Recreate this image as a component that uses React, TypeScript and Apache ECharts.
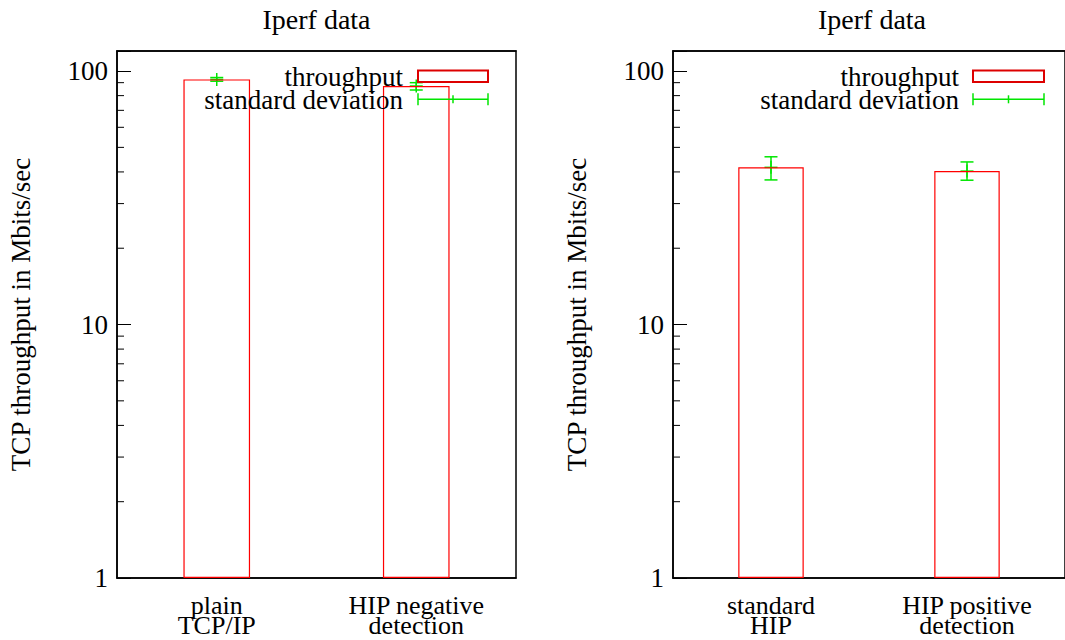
import React, { useEffect, useRef } from 'react';
import * as echarts from 'echarts';

// ---- data ----
const leftCategories = ['plain\nTCP/IP', 'HIP negative\ndetection'];
const leftThroughput = [92.7, 87.3];
const leftDevLow = [91.2, 84.2];
const leftDevHigh = [94.3, 90.0];

const rightCategories = ['standard\nHIP', 'HIP positive\ndetection'];
const rightThroughput = [41.7, 40.3];
const rightDevLow = [37.2, 37.1];
const rightDevHigh = [45.9, 43.8];

const yMin = 1;
const yMax = 120;
const majorTicks = [1, 10, 100];
const minorTicks = [2, 3, 4, 5, 6, 7, 8, 9, 20, 30, 40, 50, 60, 70, 80, 90];
const chartTitle = 'Iperf data';
const yAxisName = 'TCP throughput in Mbits/sec';
const legendNames = ['throughput', 'standard deviation'];

const FONT = "'Liberation Serif', 'DejaVu Serif', serif";
const FS = 27;
const RED = '#ff0000';
const GREEN = '#00e600';

export default function App() {
  const ref = useRef<HTMLDivElement>(null);
  useEffect(() => {
    if (!ref.current) return;
    const chart = echarts.init(ref.current, undefined, { renderer: 'svg' });

    const panels = [
      { cats: leftCategories, thr: leftThroughput, lo: leftDevLow, hi: leftDevHigh, grid: { left: 117, top: 51, width: 399, height: 527 }, titleX: 316.5, legendRight: 403, legendSample: 418, legendW: 70 },
      { cats: rightCategories, thr: rightThroughput, lo: rightDevLow, hi: rightDevHigh, grid: { left: 673, top: 51, width: 398, height: 527 }, titleX: 872, legendRight: 959, legendSample: 973, legendW: 71 },
    ];

    const grids: any[] = [];
    const xAxes: any[] = [];
    const yAxes: any[] = [];
    const series: any[] = [];
    const graphics: any[] = [];

    panels.forEach((p, i) => {
      grids.push({ ...p.grid, show: true, borderColor: '#000', borderWidth: 1.5, backgroundColor: 'transparent', containLabel: false });
      xAxes.push({
        type: 'category', gridIndex: i, position: 'bottom', data: p.cats,
        axisLine: { lineStyle: { color: '#000', width: 1.5 } },
        axisTick: { inside: true, length: 13, alignWithLabel: true, lineStyle: { color: '#000', width: 1 } },
        axisLabel: { interval: 0, color: '#000', fontFamily: FONT, fontSize: 26, lineHeight: 20, margin: 17 },
      });
      xAxes.push({
        type: 'category', gridIndex: i, position: 'top', data: p.cats,
        axisLine: { lineStyle: { color: '#000', width: 1.5 } },
        axisTick: { inside: true, length: 13, alignWithLabel: true, lineStyle: { color: '#000', width: 1 } },
        axisLabel: { show: false },
      });
      yAxes.push({
        type: 'log', logBase: 10, gridIndex: i, min: yMin, max: yMax,
        name: yAxisName, nameLocation: 'middle', nameRotate: 90, nameGap: 83,
        nameTextStyle: { color: '#000', fontFamily: FONT, fontSize: FS },
        axisLine: { show: true, lineStyle: { color: '#000', width: 1.5 } },
        axisTick: { show: true, inside: true, length: 14, lineStyle: { color: '#000', width: 1 } },
        splitLine: { show: false },
        axisLabel: {
          color: '#000', fontFamily: FONT, fontSize: FS, margin: 9,
          formatter: (v: number) => {
            const m = majorTicks.find((t) => Math.abs(t - v) < 1e-6 * t);
            return m !== undefined ? String(m) : '';
          },
        },
      });

      series.push({
        type: 'bar', xAxisIndex: 2 * i, yAxisIndex: i, data: p.thr, barWidth: '33.4%', z: 4,
        itemStyle: { color: 'rgba(0,0,0,0)', borderColor: RED, borderWidth: 1.2 },
        silent: true,
      });
      series.push({
        type: 'custom', xAxisIndex: 2 * i, yAxisIndex: i, z: 3, silent: true,
        data: p.thr.map((v, k) => [k, v, p.lo[k], p.hi[k]]),
        encode: { x: 0, y: [1, 2, 3] },
        renderItem: (params: any, api: any) => {
          const x = api.value(0);
          const c = api.coord([x, api.value(1)]);
          const lo = api.coord([x, api.value(2)]);
          const hi = api.coord([x, api.value(3)]);
          const cap = 6.5;
          const st = { stroke: GREEN, lineWidth: 1.5 };
          return {
            type: 'group',
            children: [
              { type: 'line', shape: { x1: c[0], y1: lo[1], x2: c[0], y2: hi[1] }, style: st },
              { type: 'line', shape: { x1: c[0] - cap, y1: lo[1], x2: c[0] + cap, y2: lo[1] }, style: st },
              { type: 'line', shape: { x1: c[0] - cap, y1: hi[1], x2: c[0] + cap, y2: hi[1] }, style: st },
              { type: 'line', shape: { x1: c[0] - cap, y1: c[1], x2: c[0] + cap, y2: c[1] }, style: st },
              { type: 'line', shape: { x1: c[0], y1: c[1] - cap, x2: c[0], y2: c[1] + cap }, style: st },
            ],
          };
        },
      });
      series.push({
        type: 'custom', xAxisIndex: 2 * i, yAxisIndex: i, z: 2, silent: true,
        data: minorTicks.map((v) => [0, v]),
        encode: { x: 0, y: 1 },
        renderItem: (params: any, api: any) => {
          const cs = params.coordSys;
          const y = api.coord([0, api.value(1)])[1];
          return { type: 'line', shape: { x1: cs.x, y1: y, x2: cs.x + 7, y2: y }, style: { stroke: '#000', lineWidth: 1 } };
        },
      });

      // title
      graphics.push({ type: 'text', x: p.titleX, y: 19, style: { text: chartTitle, align: 'center', verticalAlign: 'middle', fill: '#000', font: `28px ${FONT}` } });
      // legend
      const sx = p.legendSample;
      const w = p.legendW;
      graphics.push({ type: 'text', x: p.legendRight, y: 77, z: 10, style: { text: legendNames[0], align: 'right', verticalAlign: 'middle', fill: '#000', font: `${FS}px ${FONT}` } });
      graphics.push({ type: 'rect', z: 10, shape: { x: sx, y: 70.5, width: w, height: 11.5 }, style: { fill: 'none', stroke: '#dd0000', lineWidth: 2 } });
      graphics.push({ type: 'text', x: p.legendRight, y: 100, z: 10, style: { text: legendNames[1], align: 'right', verticalAlign: 'middle', fill: '#000', font: `${FS}px ${FONT}` } });
      const ly = 99.3;
      const gs = { stroke: GREEN, lineWidth: 1.5 };
      graphics.push({ type: 'line', z: 10, shape: { x1: sx, y1: ly, x2: sx + w, y2: ly }, style: gs });
      graphics.push({ type: 'line', z: 10, shape: { x1: sx, y1: ly - 6, x2: sx, y2: ly + 6 }, style: gs });
      graphics.push({ type: 'line', z: 10, shape: { x1: sx + w, y1: ly - 6, x2: sx + w, y2: ly + 6 }, style: gs });
      graphics.push({ type: 'line', z: 10, shape: { x1: sx + w / 2, y1: ly - 4, x2: sx + w / 2, y2: ly + 4 }, style: gs });
    });

    chart.setOption({
      animation: false,
      backgroundColor: '#fff',
      grid: grids,
      xAxis: xAxes,
      yAxis: yAxes,
      series,
      graphic: graphics,
    });
    return () => chart.dispose();
  }, []);

  return <div ref={ref} style={{ position: 'absolute', left: 0, top: 0, width: 1065, height: 640, background: '#fff' }} />;
}
